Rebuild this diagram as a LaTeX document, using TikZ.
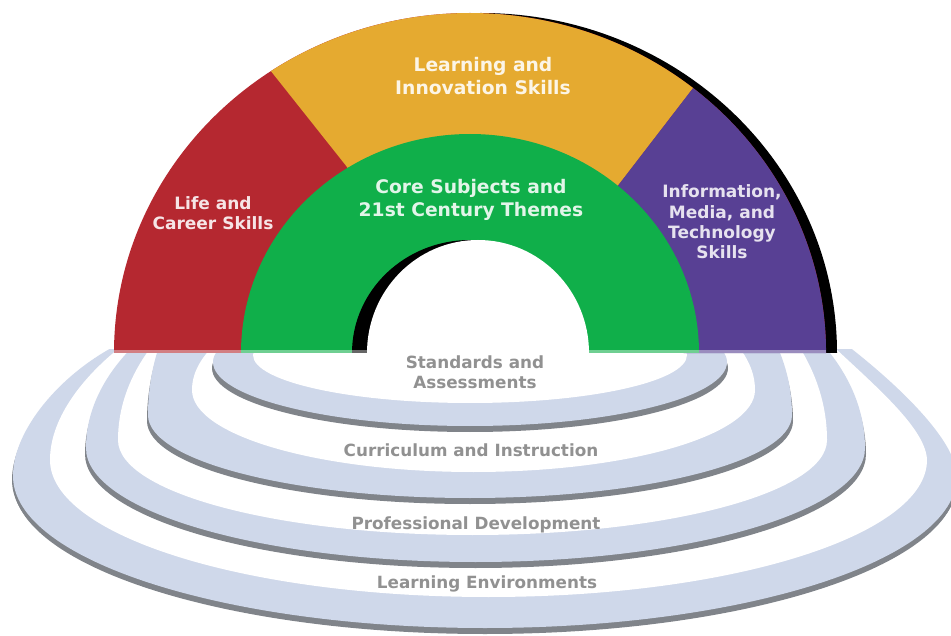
\documentclass[tikz,border=0pt]{standalone}
\usepackage{fontspec}
\newfontfamily\dv{DejaVu Sans}
\definecolor{cred}{RGB}{181,40,48}
\definecolor{cyel}{RGB}{229,170,48}
\definecolor{cgrn}{RGB}{16,175,74}
\definecolor{cpur}{RGB}{88,64,148}
\definecolor{cring}{RGB}{207,216,234}
\definecolor{cshad}{RGB}{128,132,138}
\definecolor{ctext}{RGB}{145,145,145}
% compound ellipse: cx, cy, rx, ry lower, ry upper right, ry upper left
\newcommand\myring[6]{(#1-#3,#2) arc[start angle=180,end angle=360,x radius=#3,y radius=#4] arc[start angle=0,end angle=90,x radius=#3,y radius=#5] -- (#1,#2+#6) arc[start angle=90,end angle=180,x radius=#3,y radius=#6] -- cycle}
\newcommand\bandFourOuter{(13,-476) arc[start angle=180,end angle=360,x radius=472,y radius=152] .. controls (956,-440) and (898,-385) .. (848,-346) -- (115,-346) .. controls (60,-375) and (13,-430) .. (13,-476) -- cycle}
\newcommand\bandFourInner{(50,-460) arc[start angle=180,end angle=360,x radius=438.5,y radius=137] .. controls (926,-430) and (880,-390) .. (836,-349) -- (118,-349) .. controls (80,-380) and (50,-420) .. (50,-460) -- cycle}
\tikzset{
  archbig/.style={align=center,font=\dv\bfseries\fontsize{18.7}{23}\selectfont,inner sep=0pt},
  archsmall/.style={align=center,font=\dv\bfseries\fontsize{17}{20.3}\selectfont,inner sep=0pt},
  ringtxt/.style={align=center,text=ctext,font=\dv\bfseries\fontsize{16.8}{20}\selectfont,inner sep=0pt}
}
\begin{document}
\begin{tikzpicture}[x=1pt,y=1pt]
\useasboundingbox (0,0) rectangle (951,-636);
\fill[white] (0,0) rectangle (951,-636);
% rings
\begin{scope}
\clip (0,-350) rectangle (951,-636);
% band 4
\fill[cshad,yshift=-6pt] \bandFourOuter;
\fill[cshad,yshift=-4pt,xshift=-1pt] \bandFourOuter;
\fill[cshad,yshift=-4pt,xshift=1pt] \bandFourOuter;
\fill[cring] \bandFourOuter;
\fill[white] \bandFourInner;
% band 3
\fill[cshad] \myring{475.5}{-454}{390.5}{114}{229}{213};
\fill[cring] \myring{475.5}{-448}{389.5}{114}{229}{213};
\fill[white] \myring{472.5}{-440}{354.5}{95}{240}{220};
% band 2
\fill[cshad] \myring{470}{-421}{323}{83}{229}{264};
\fill[cring] \myring{470}{-415}{322}{83}{229}{264};
\fill[white] \myring{473.5}{-390}{281.5}{82}{128}{115};
% band 1
\fill[cshad] \myring{470}{-368}{258}{64}{60}{60};
\fill[cring] \myring{470}{-362}{257}{64}{60}{60};
\fill[white] \myring{470}{-355}{217}{48}{40}{40};
\end{scope}
% arch
\fill[black] (125,-353) arc[start angle=180,end angle=0,x radius=356,y radius=340] -- cycle;
\fill[cred] (114,-353) arc[start angle=180,end angle=0,x radius=356,y radius=340] -- cycle;
\fill[cyel] (270.93,-71.13) arc[start angle=124,end angle=51.2,x radius=356,y radius=340] -- (612.7,-192.5) -- (470,-353) -- (354.5,-176.4) -- cycle;
\fill[cpur] (693.1,-88.04) arc[start angle=51.2,end angle=0,x radius=356,y radius=340] -- (470,-353) -- (612.7,-192.5) -- cycle;
\fill[cgrn] (241,-353) arc[start angle=180,end angle=0,x radius=229,y radius=219] -- cycle;
\fill[black] (352,-353) arc[start angle=180,end angle=0,x radius=118,y radius=113] -- cycle;
\fill[white] (367,-353) arc[start angle=180,end angle=0,x radius=111,y radius=113] -- cycle;
\fill[white,opacity=0.4] (114,-350.5) rectangle (826,-353);
% labels
\node[archbig,text=white!88!cyel] (lis) at (483,-76.5) {Learning and\\Innovation Skills};
\node[archbig,text=white!88!cgrn] (core) at (471,-199.5) {Core Subjects and\\21st Century Themes};
\node[archsmall,text=white!88!cred] (life) at (213,-213) {Life and\\Career Skills};
\node[archsmall,text=white!85!cpur] (imt) at (722,-222) {Information,\\Media, and\\Technology\\Skills};
\node[ringtxt] (sa) at (475,-372) {Standards and\\Assessments};
\node[ringtxt,anchor=base] (ci) at (471,-456) {Curriculum and Instruction};
\node[ringtxt,anchor=base] (pd) at (476,-529) {Professional Development};
\node[ringtxt,anchor=base] (le) at (487,-588) {Learning Environments};
\end{tikzpicture}
\end{document}
